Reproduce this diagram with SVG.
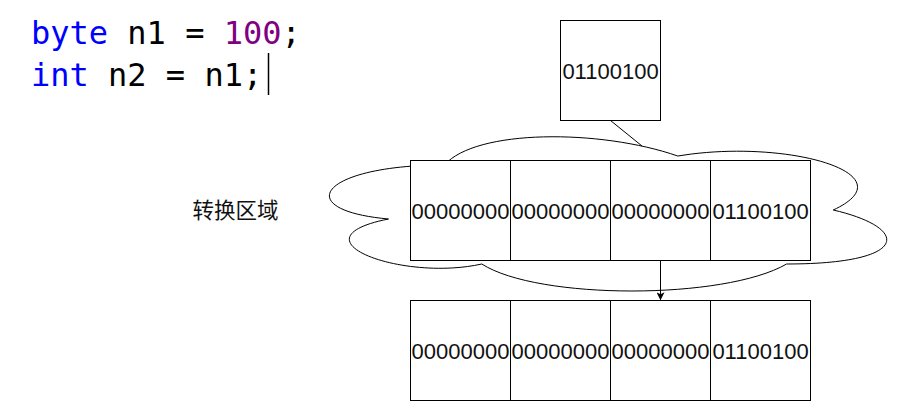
<svg xmlns="http://www.w3.org/2000/svg" width="911" height="401" viewBox="0 0 911 401">
<defs>
<style>
.box{fill:#fff;stroke:#000;stroke-width:1}
.cell{font-family:"Liberation Sans",Arial,sans-serif;font-size:22px;fill:#111;text-anchor:middle}
.code{font-family:"DejaVu Sans Mono","Liberation Mono",monospace;font-size:32px;fill:#000}
.kw{fill:#0000ff}
.num{fill:#800080}
.edge{fill:none;stroke:#000;stroke-width:1}
</style>
<marker id="arr" viewBox="0 0 10 10" refX="9" refY="5" markerWidth="8" markerHeight="8" markerUnits="userSpaceOnUse" orient="auto">
<path d="M0,0 L10,5 L0,10 L2.5,5 Z" fill="#000"/>
</marker>
</defs>

<g id="code">
<text class="code" x="31" y="44"><tspan class="kw">byte</tspan> n1 = <tspan class="num">100</tspan>;</text>
<text class="code" x="31" y="86"><tspan class="kw">int</tspan> n2 = n1;</text>
<line x1="268.5" y1="53" x2="268.5" y2="95" stroke="#000" stroke-width="1.5"/>
</g>

<g id="label">
<text x="235.5" y="218" font-family="'Noto Sans CJK SC','Noto Sans',sans-serif" font-size="21.5" fill="#111" text-anchor="middle">转换区域</text>
</g>

<g id="cloud">
<path class="box" d="M444.5,165 C320.1,165 289,210 388.5,219 C289,238.8 401,282 481.8,264 C537.8,300 724.4,300 786.6,264 C911,264 911,228 833.25,210 C911,174 786.6,138 677.75,156 C600,129 475.6,129 444.5,165 Z"/>
</g>

<g id="connectors">
<line class="edge" x1="610.5" y1="120.5" x2="642" y2="146"/>
<line class="edge" x1="660.5" y1="260.5" x2="660.5" y2="299.5" marker-end="url(#arr)"/>
</g>

<g id="source">
<rect class="box" x="560.5" y="20.5" width="100" height="100"/>
<text class="cell" x="610.5" y="78.5">01100100</text>
</g>

<g id="converted">
<rect class="box" x="410.5" y="160.5" width="100" height="100"/>
<rect class="box" x="510.5" y="160.5" width="100" height="100"/>
<rect class="box" x="610.5" y="160.5" width="100" height="100"/>
<rect class="box" x="710.5" y="160.5" width="100" height="100"/>
<text class="cell" x="460.5" y="218.5">00000000</text>
<text class="cell" x="560.5" y="218.5">00000000</text>
<text class="cell" x="660.5" y="218.5">00000000</text>
<text class="cell" x="760.5" y="218.5">01100100</text>
</g>

<g id="result">
<rect class="box" x="410.5" y="300.5" width="100" height="100"/>
<rect class="box" x="510.5" y="300.5" width="100" height="100"/>
<rect class="box" x="610.5" y="300.5" width="100" height="100"/>
<rect class="box" x="710.5" y="300.5" width="100" height="100"/>
<text class="cell" x="460.5" y="358.5">00000000</text>
<text class="cell" x="560.5" y="358.5">00000000</text>
<text class="cell" x="660.5" y="358.5">00000000</text>
<text class="cell" x="760.5" y="358.5">01100100</text>
</g>
</svg>
